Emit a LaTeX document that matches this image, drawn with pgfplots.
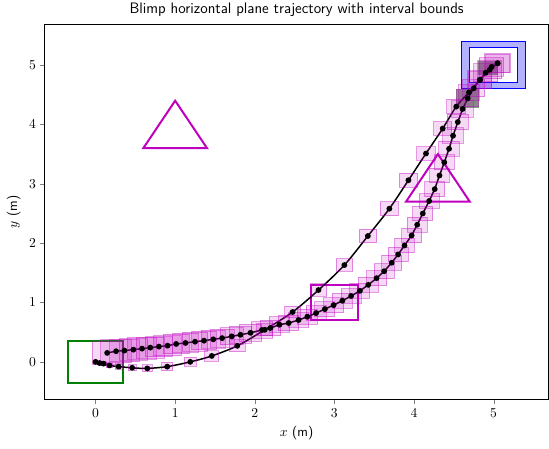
\documentclass[border=0pt]{standalone}
\usepackage{pgfplots}
\pgfplotsset{compat=1.18}
\definecolor{mpm}{rgb}{0.75,0,0.75}
\definecolor{mpg}{rgb}{0,0.5,0}
\definecolor{mpb}{rgb}{0,0,1}
\definecolor{grbox}{RGB}{82,138,82}

% box mark: half-height = mark size, half-width scaled so the box is square in data units
\pgfdeclareplotmark{wbox}{%
  \pgfpathrectangle{\pgfqpoint{-1.341\pgfplotmarksize}{-\pgfplotmarksize}}%
    {\pgfqpoint{2.682\pgfplotmarksize}{2\pgfplotmarksize}}%
  \pgfusepathqfillstroke}

% sparse trajectory (x, y, half box size)
\pgfplotstableread{
x y h
0.00 0.00 0.03
0.05 -0.02 0.03
0.10 -0.03 0.035
0.175 -0.06 0.04
0.29 -0.08 0.045
0.46 -0.10 0.05
0.65 -0.11 0.06
0.90 -0.08 0.07
1.19 0.00 0.075
1.46 0.10 0.09
1.78 0.27 0.10
2.125 0.54 0.10
2.475 0.84 0.10
2.80 1.21 0.105
3.125 1.63 0.105
3.42 2.12 0.11
3.69 2.58 0.115
3.93 3.06 0.115
4.15 3.51 0.115
4.36 3.93 0.115
4.53 4.30 0.12
4.69 4.54 0.13
4.83 4.75 0.14
4.95 4.92 0.15
5.05 5.03 0.15
}\planned

% dense trajectory (x, y, half box size)
\pgfplotstableread{
x y h
0.146 0.151 0.19
0.258 0.179 0.19
0.3625 0.19 0.185
0.475 0.206 0.18
0.584 0.223 0.18
0.6875 0.24 0.175
0.796 0.257 0.17
0.904 0.273 0.17
1.0125 0.302 0.165
1.129 0.319 0.16
1.25 0.34 0.16
1.3625 0.357 0.155
1.479 0.38 0.15
1.59 0.40 0.15
1.71 0.43 0.145
1.82 0.456 0.14
1.946 0.49 0.14
2.09 0.537 0.135
2.196 0.57 0.13
2.31 0.626 0.13
2.425 0.654 0.13
2.55 0.705 0.125
2.66 0.76 0.125
2.77 0.822 0.125
2.88 0.889 0.125
2.99 0.956 0.125
3.10 1.03 0.125
3.21 1.11 0.125
3.32 1.196 0.125
3.425 1.297 0.125
3.53 1.41 0.125
3.625 1.527 0.125
3.72 1.67 0.125
3.80 1.81 0.125
3.88 1.96 0.125
3.97 2.13 0.125
4.04 2.31 0.125
4.11 2.50 0.125
4.19 2.71 0.125
4.26 2.91 0.125
4.32 3.14 0.125
4.38 3.36 0.125
4.44 3.59 0.13
4.49 3.81 0.13
4.55 4.04 0.13
4.61 4.26 0.135
4.675 4.44 0.14
4.75 4.61 0.14
4.825 4.75 0.15
4.90 4.87 0.15
4.975 4.97 0.155
5.05 5.03 0.16
}\actual

\begin{document}
\begin{tikzpicture}
\begin{axis}[
  scale only axis, width=404.8pt, height=301.8pt,
  xmin=-0.6375, xmax=5.6875, ymin=-0.6375, ymax=5.6875,
  xtick={0,1,2,3,4,5}, ytick={0,1,2,3,4,5},
  tick align=outside, tick pos=left,
  major tick length=3.5pt,
  tick label style={font=\fontsize{11}{13}\selectfont},
  label style={font=\fontsize{11}{13}\selectfont},
  title style={font=\fontsize{12.2}{14}\selectfont\sffamily, yshift=-3.5pt},
  title={Blimp horizontal plane trajectory with interval bounds},
  xlabel={$x$ \textsf{(m)}}, ylabel={$y$ \textsf{(m)}},
  axis line style={line width=0.6pt},
]
% start, goal, obstacles
\addplot[mpg, line width=1.6pt] coordinates {(-0.35,-0.35) (0.35,-0.35) (0.35,0.35) (-0.35,0.35)} --cycle;
\addplot[mpb, line width=1pt, fill=mpb, fill opacity=0.3] coordinates {(4.6,4.6) (5.4,4.6) (5.4,5.4) (4.6,5.4)} --cycle;
\addplot[mpb, line width=1pt, fill=white] coordinates {(4.7,4.7) (5.3,4.7) (5.3,5.3) (4.7,5.3)} --cycle;
\addplot[mpm, line width=1.6pt] coordinates {(0.6,3.6) (1.4,3.6) (1.0,4.4)} --cycle;
\addplot[mpm, line width=1.6pt] coordinates {(3.9,2.7) (4.7,2.7) (4.3,3.5)} --cycle;
\addplot[mpm, line width=1.6pt] coordinates {(2.7,0.7) (3.3,0.7) (3.3,1.3) (2.7,1.3)} --cycle;

% interval boxes
\addplot[scatter, only marks, mark=wbox,
  scatter/use mapped color={draw=mpm, fill=mpm, fill opacity=0.15, draw opacity=0.4, line width=0.8pt},
  visualization depends on={47.72*\thisrow{h} \as \hs},
  scatter/@pre marker code/.append style={/tikz/mark size=\hs}]
  table[x=x, y=y] {\actual};
\addplot[scatter, only marks, mark=wbox,
  scatter/use mapped color={draw=mpm, fill=mpm, fill opacity=0.15, draw opacity=0.4, line width=0.8pt},
  visualization depends on={47.72*\thisrow{h} \as \hs},
  scatter/@pre marker code/.append style={/tikz/mark size=\hs}]
  table[x=x, y=y] {\planned};

% highlighted boxes
\addplot[draw=none, fill=grbox, fill opacity=0.75] coordinates {(4.8,4.83) (5.05,4.83) (5.05,5.07) (4.8,5.07)} --cycle;
\addplot[draw=none, fill=grbox, fill opacity=0.75] coordinates {(4.53,4.27) (4.81,4.27) (4.81,4.59) (4.53,4.59)} --cycle;

% trajectories
\addplot[black, line width=1.2pt, smooth, mark=*, mark size=1.7pt] table[x=x, y=y] {\planned};
\addplot[black, line width=1.2pt, mark=*, mark size=1.7pt] table[x=x, y=y] {\actual};
\end{axis}
\pgfresetboundingbox
\path[use as bounding box] ([shift={(-36pt,-39.6pt)}]current axis.south west) rectangle ([shift={(0.5pt,19.5pt)}]current axis.north east);
\end{tikzpicture}
\end{document}
